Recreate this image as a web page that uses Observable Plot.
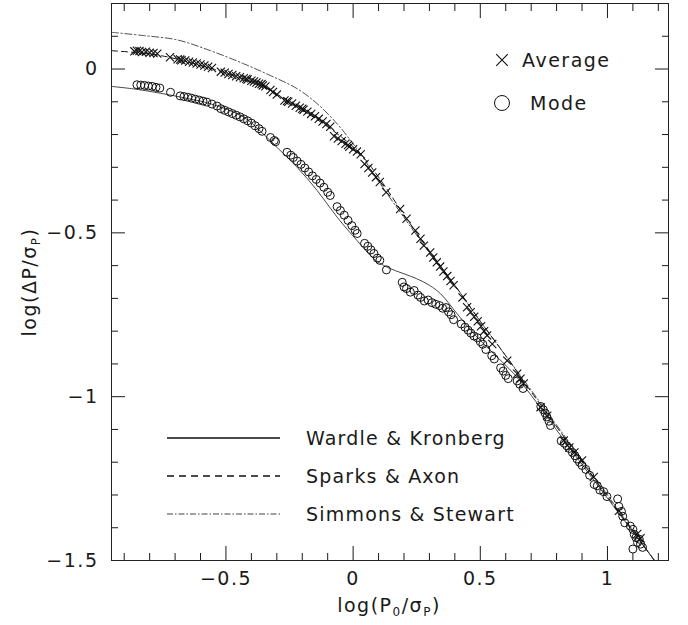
<!DOCTYPE html>
<html><head><meta charset="utf-8">
<script src="https://cdn.jsdelivr.net/npm/d3@7"></script>
<script src="https://cdn.jsdelivr.net/npm/@observablehq/plot@0.6"></script>
<style>body{margin:0;background:#fff;}</style>
</head><body><div id="chart"></div>
<script>
// ---- axis ticks ----
const xMajor = [-0.5, 0, 0.5, 1];
const xTickLabels = ["\u22120.5", "0", "0.5", "1"];
const xMinor = [-0.9,-0.8,-0.7,-0.6,-0.4,-0.3,-0.2,-0.1,0.1,0.2,0.3,0.4,0.6,0.7,0.8,0.9,1.1,1.2];
const yMajor = [-1.5, -1, -0.5, 0];
const yTickLabels = ["\u22121.5", "\u22121", "\u22120.5", "0"];
const yMinor = [0.1,-0.1,-0.2,-0.3,-0.4,-0.6,-0.7,-0.8,-0.9,-1.1,-1.2,-1.3,-1.4];

// ---- Average (crosses) ----
const avgX = [-0.86,-0.85,-0.84,-0.83,-0.815,-0.80,-0.785,-0.77,
  -0.72,
  -0.69,-0.68,-0.675,-0.66,-0.645,-0.63,-0.615,-0.60,-0.585,-0.57,-0.555,
  -0.52,-0.505,-0.49,-0.475,-0.46,-0.445,-0.43,-0.42,-0.415,-0.40,-0.39,-0.38,-0.37,-0.36,-0.355,-0.345,
  -0.325,-0.315,-0.30,
  -0.27,-0.26,-0.255,-0.24,-0.225,-0.21,-0.2,-0.195,-0.18,-0.165,-0.15,-0.135,-0.12,-0.105,-0.09,
  -0.075,-0.06,-0.045,-0.03,-0.02,-0.015,0.0,0.015,0.03,
  0.045,0.06,0.075,0.09,0.105,
  0.13,0.185,0.21,0.245,0.265,0.278,0.303,0.315,0.329,
  0.342,0.355,0.37,0.383,0.395,0.43,
  0.448,0.462,0.476,0.49,0.503,0.515,0.527,0.547,0.606,0.645,0.658,0.671,
  0.737,0.763,0.828,0.85,0.87,0.9,0.946,1.045,1.117,1.13];
const avgY = [0.054,0.056,0.055,0.052,0.053,0.050,0.049,0.047,
  0.036,
  0.030,0.029,0.027,0.026,0.022,0.020,0.017,0.014,0.011,0.007,0.003,
  -0.008,-0.011,-0.015,-0.018,-0.022,-0.025,-0.028,-0.030,-0.032,-0.036,-0.038,-0.041,-0.045,-0.046,-0.050,-0.053,
  -0.064,-0.070,-0.078,
  -0.096,-0.098,-0.100,-0.105,-0.112,-0.118,-0.121,-0.124,-0.130,-0.137,-0.144,-0.152,-0.160,-0.168,-0.176,
  -0.205,-0.212,-0.220,-0.228,-0.232,-0.237,-0.245,-0.252,-0.260,
  -0.290,-0.302,-0.316,-0.330,-0.345,
  -0.376,-0.427,-0.457,-0.493,-0.518,-0.539,-0.560,-0.575,-0.590,
  -0.603,-0.618,-0.632,-0.647,-0.660,-0.697,
  -0.727,-0.742,-0.756,-0.770,-0.785,-0.800,-0.813,-0.839,-0.890,-0.930,-0.945,-0.960,
  -1.032,-1.058,-1.134,-1.155,-1.170,-1.195,-1.245,-1.348,-1.419,-1.432];

// ---- Mode (circles) ----
const modeX = [-0.85,-0.835,-0.82,-0.805,-0.79,-0.775,-0.76,
  -0.718,
  -0.68,-0.665,-0.65,-0.635,-0.62,-0.605,-0.59,-0.575,-0.555,-0.535,
  -0.52,-0.505,-0.49,-0.475,-0.46,-0.445,-0.43,-0.415,-0.40,-0.385,-0.37,-0.358,
  -0.325,-0.31,-0.305,
  -0.26,-0.245,-0.235,-0.22,-0.205,-0.19,-0.175,-0.16,-0.145,-0.13,-0.115,-0.10,-0.09,
  -0.063,-0.05,-0.035,-0.02,-0.005,0.008,0.016,
  0.045,0.058,0.07,0.082,0.095,0.105,
  0.131,0.193,0.20,
  0.21,0.225,0.24,0.255,0.265,
  0.28,0.295,0.31,0.325,0.34,0.352,0.365,0.375,0.385,0.395,
  0.425,0.44,0.452,0.463,0.475,0.488,0.50,0.51,0.522,
  0.545,0.555,0.58,0.59,0.60,0.61,0.645,0.655,0.668,
  0.738,0.748,0.755,0.762,0.77,0.776,
  0.818,0.83,0.84,0.85,0.862,0.872,0.88,0.89,0.90,0.915,0.93,
  0.948,0.96,0.97,0.985,0.998,
  1.04,1.045,1.055,1.06,1.068,
  1.09,1.10,1.105,1.112,1.118,1.125,1.13,1.138,1.10];
const modeY = [-0.048,-0.049,-0.050,-0.052,-0.053,-0.056,-0.058,
  -0.071,
  -0.082,-0.084,-0.086,-0.089,-0.092,-0.095,-0.098,-0.101,-0.107,-0.113,
  -0.121,-0.126,-0.131,-0.136,-0.141,-0.146,-0.152,-0.158,-0.165,-0.173,-0.182,-0.190,
  -0.209,-0.218,-0.222,
  -0.254,-0.263,-0.270,-0.281,-0.291,-0.302,-0.314,-0.326,-0.337,-0.348,-0.361,-0.376,-0.386,
  -0.420,-0.432,-0.446,-0.462,-0.478,-0.492,-0.502,
  -0.532,-0.541,-0.552,-0.563,-0.577,-0.584,
  -0.613,-0.651,-0.665,
  -0.670,-0.681,-0.676,-0.690,-0.697,
  -0.708,-0.705,-0.713,-0.718,-0.722,-0.730,-0.728,-0.741,-0.750,-0.765,
  -0.778,-0.788,-0.797,-0.806,-0.815,-0.820,-0.832,-0.840,-0.856,
  -0.875,-0.885,-0.912,-0.922,-0.935,-0.945,-0.952,-0.962,-0.975,
  -1.030,-1.040,-1.050,-1.062,-1.075,-1.088,
  -1.135,-1.142,-1.150,-1.158,-1.170,-1.180,-1.190,-1.200,-1.210,-1.222,-1.240,
  -1.268,-1.272,-1.285,-1.290,-1.305,
  -1.312,-1.335,-1.350,-1.365,-1.385,
  -1.395,-1.405,-1.420,-1.430,-1.445,-1.435,-1.450,-1.460,-1.465];

// ---- model curves ----
const wkX = [-0.95,-0.85,-0.757,-0.65,-0.561,-0.43,-0.364,-0.298,-0.22,-0.141,-0.063,0.016,0.081,0.134,0.2,0.25,0.3,0.344,0.409,0.475,0.553,0.632,0.711,0.85,1.0,1.185];
const wkY = [-0.053,-0.062,-0.074,-0.090,-0.106,-0.147,-0.190,-0.240,-0.300,-0.371,-0.452,-0.524,-0.579,-0.605,-0.625,-0.640,-0.660,-0.686,-0.747,-0.808,-0.869,-0.930,-1.007,-1.155,-1.310,-1.500];
const saX = [-0.95,-0.85,-0.75,-0.65,-0.55,-0.45,-0.35,-0.25,-0.15,-0.05,0.03,0.1,0.2,0.3,0.4,0.5,0.6,0.7,0.85,1.0,1.185];
const saY = [0.056,0.050,0.040,0.022,0.0,-0.025,-0.055,-0.100,-0.150,-0.205,-0.260,-0.330,-0.445,-0.555,-0.660,-0.770,-0.875,-0.985,-1.145,-1.305,-1.500];
const ssX = [-0.95,-0.823,-0.692,-0.561,-0.43,-0.325,-0.22,-0.141,-0.063,-0.01,0.029,0.081,0.134,0.199,0.3,0.4,0.5,0.6,0.7,0.85,1.0,1.185];
const ssY = [0.112,0.102,0.089,0.056,0.016,-0.020,-0.060,-0.106,-0.167,-0.218,-0.259,-0.320,-0.381,-0.452,-0.560,-0.660,-0.770,-0.875,-0.980,-1.140,-1.300,-1.500];

const seriesNames = ["Average", "Mode"];
const modelNames = ["Wardle & Kronberg", "Sparks & Axon", "Simmons & Stewart"];

const FONT = "'DejaVu Sans', sans-serif";
const zip = (xs, ys) => xs.map((x, i) => ({x, y: ys[i]}));
const avg = zip(avgX, avgY), mode = zip(modeX, modeY);
const wk = zip(wkX, wkY), sa = zip(saX, saY), ss = zip(ssX, ssY);
const blank = () => "";

const plot = Plot.plot({
  width: 688, height: 625,
  marginLeft: 111, marginRight: 20, marginTop: 3, marginBottom: 65,
  x: {domain: [-0.95, 1.24]},
  y: {domain: [-1.5, 0.2]},
  style: {fontFamily: FONT, fontSize: "19px", letterSpacing: "1.5px", color: "#1a1a1a", background: "#fff", overflow: "visible"},
  marks: [
    Plot.axisX(xMajor, {anchor: "bottom", tickSize: 0, tickPadding: 11, label: null, tickFormat: (d, i) => xTickLabels[i]}),
    Plot.axisY(yMajor, {anchor: "left", tickSize: 0, tickPadding: 13, label: null, tickFormat: (d, i) => yTickLabels[i]}),
    Plot.axisX(xMajor, {anchor: "bottom", tickSize: -14, tickFormat: blank, label: null}),
    Plot.axisX(xMinor, {anchor: "bottom", tickSize: -7, tickFormat: blank, label: null}),
    Plot.axisX(xMajor, {anchor: "top", tickSize: -14, tickFormat: blank, label: null}),
    Plot.axisX(xMinor, {anchor: "top", tickSize: -7, tickFormat: blank, label: null}),
    Plot.axisY(yMajor, {anchor: "left", tickSize: -14, tickFormat: blank, label: null}),
    Plot.axisY(yMinor, {anchor: "left", tickSize: -7, tickFormat: blank, label: null}),
    Plot.axisY(yMajor, {anchor: "right", tickSize: -14, tickFormat: blank, label: null}),
    Plot.axisY(yMinor, {anchor: "right", tickSize: -7, tickFormat: blank, label: null}),
    Plot.line(wk, {x: "x", y: "y", stroke: "#333", strokeWidth: 0.9, curve: "catmull-rom"}),
    Plot.line(sa, {x: "x", y: "y", stroke: "#111", strokeWidth: 1, strokeDasharray: "6,4", curve: "catmull-rom"}),
    Plot.line(ss, {x: "x", y: "y", stroke: "#222", strokeWidth: 0.8, strokeDasharray: "7,2.5,1.5,2.5", curve: "catmull-rom"}),
    Plot.dot(mode, {x: "x", y: "y", r: 4, stroke: "#111", strokeWidth: 1, fill: "none"}),
    Plot.dot(avg, {x: "x", y: "y", symbol: "times", r: 3.8, stroke: "#111", strokeWidth: 1.1}),
    Plot.frame({stroke: "#222", strokeWidth: 1})
  ]
});
document.getElementById("chart").appendChild(plot);

// ---- legends and axis titles ----
const svg = d3.select(plot);
const g = svg.append("g").attr("font-family", FONT).attr("font-size", 19).attr("fill", "#1a1a1a").attr("text-anchor", "start");
// symbol legend
g.append("path").attr("d", d3.symbol(d3.symbolTimes, 90)()).attr("transform", "translate(502,60)")
  .attr("stroke", "#111").attr("stroke-width", 1.1).attr("fill", "none");
g.append("text").attr("x", 522).attr("y", 60).attr("dy", "0.36em").text(seriesNames[0]);
g.append("circle").attr("cx", 502).attr("cy", 103).attr("r", 7.5).attr("stroke", "#111").attr("stroke-width", 1).attr("fill", "none");
g.append("text").attr("x", 530).attr("y", 103).attr("dy", "0.36em").text(seriesNames[1]);
// line legend
const lineStyles = [
  {dash: null, w: 1.3, y: 438},
  {dash: "7,5", w: 1.3, y: 476},
  {dash: "6,2,1.5,2", w: 0.8, y: 514}
];
lineStyles.forEach((s, i) => {
  const l = g.append("line").attr("x1", 167).attr("x2", 280).attr("y1", s.y).attr("y2", s.y)
    .attr("stroke", "#111").attr("stroke-width", s.w);
  if (s.dash) l.attr("stroke-dasharray", s.dash);
  g.append("text").attr("x", 306).attr("y", s.y).attr("dy", "0.36em").attr("letter-spacing", 1.2).text(modelNames[i]);
});
// axis titles
const yl = g.append("text").attr("transform", "translate(36,282) rotate(-90)").attr("text-anchor", "middle");
yl.append("tspan").text("log(\u0394P/\u03c3");
yl.append("tspan").attr("font-size", 12).attr("dy", 4).text("P");
yl.append("tspan").attr("dy", -4).text(")");
const xl = g.append("text").attr("x", 389).attr("y", 612).attr("text-anchor", "middle");
xl.append("tspan").text("log(P");
xl.append("tspan").attr("font-size", 12).attr("dy", 4).text("0");
xl.append("tspan").attr("dy", -4).text("/\u03c3");
xl.append("tspan").attr("font-size", 12).attr("dy", 4).text("P");
xl.append("tspan").attr("dy", -4).text(")");
</script>
</body></html>
